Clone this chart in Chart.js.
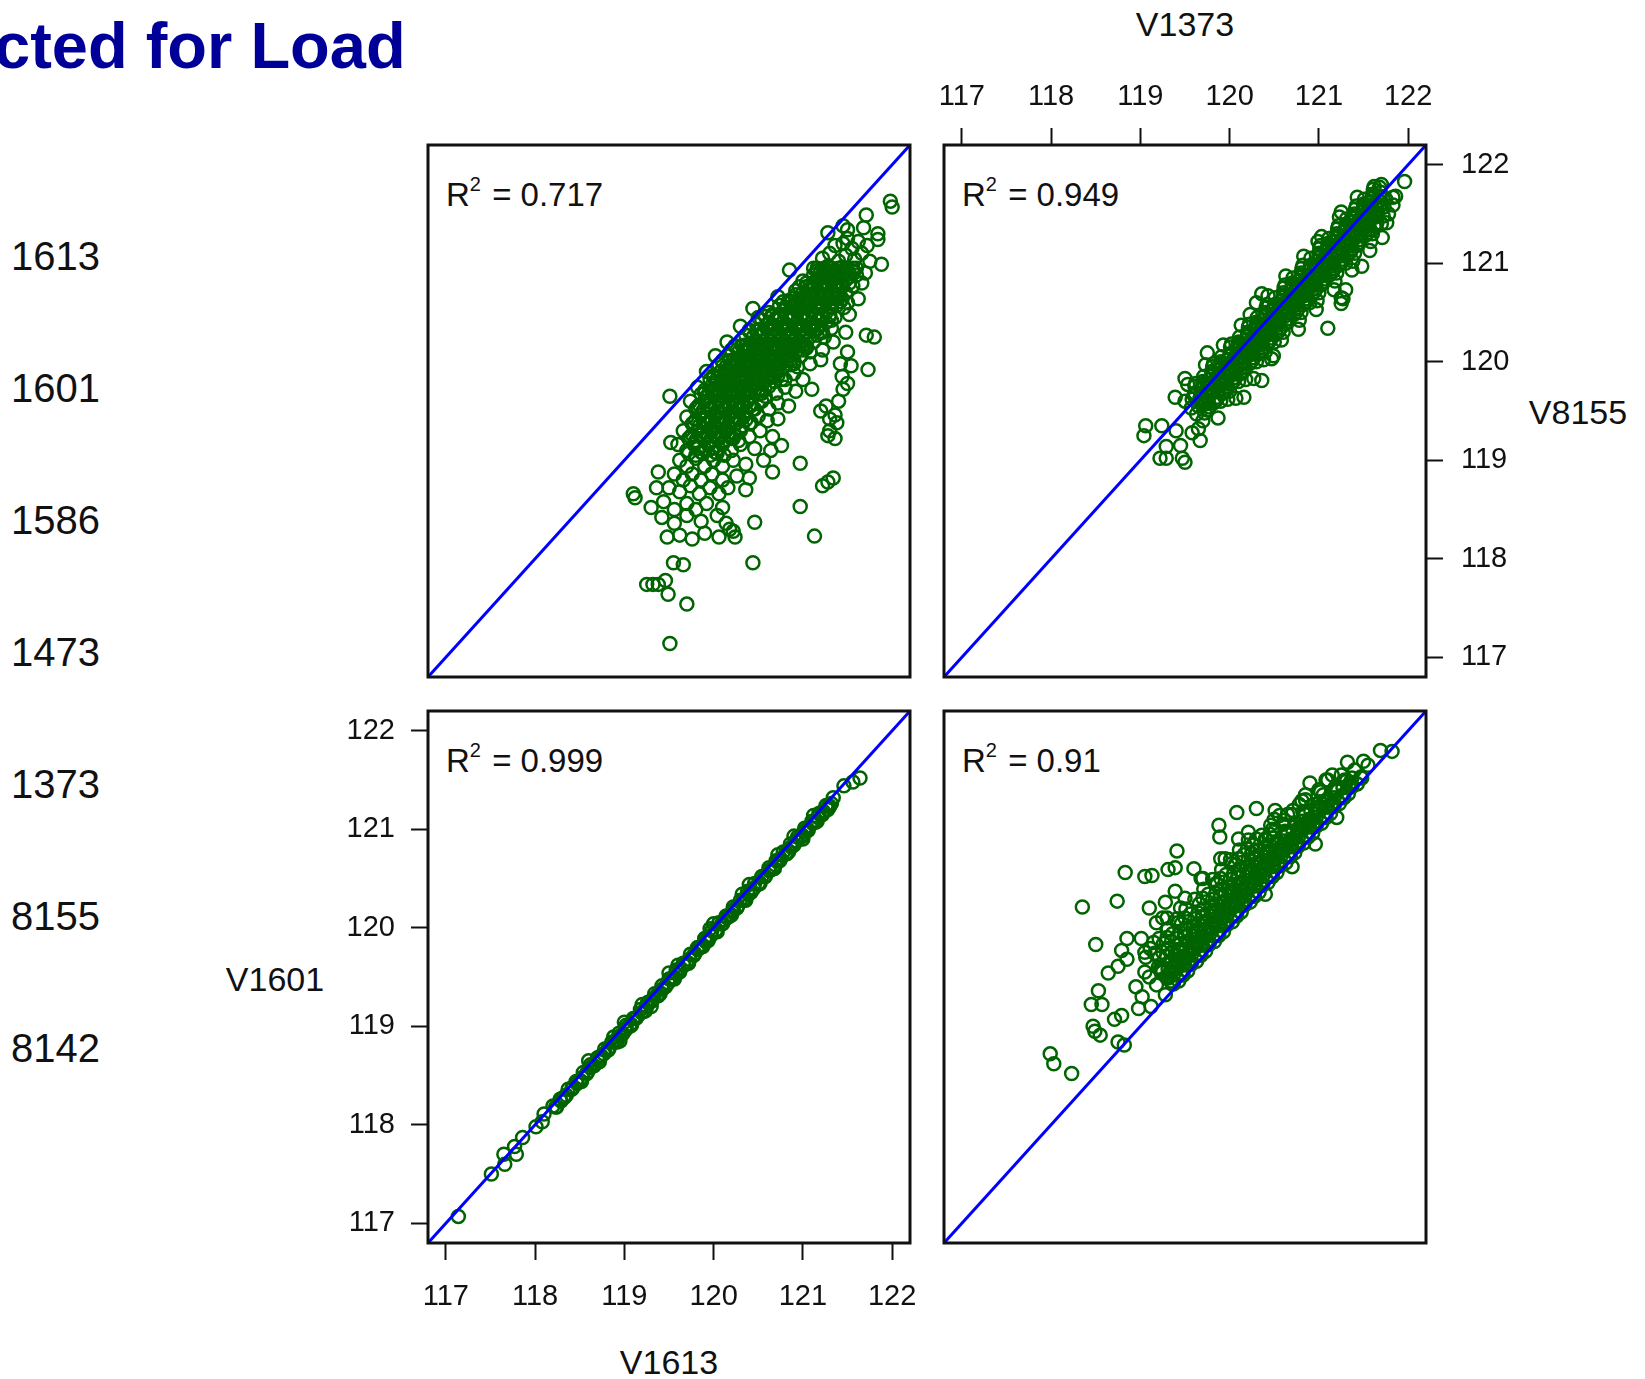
<!DOCTYPE html>
<html lang="en">
<head>
<meta charset="UTF-8">
<title>Observed vs expected for load</title>
<style>
  body {
    margin: 0;
    width: 1645px;
    height: 1379px;
    overflow: hidden;
    position: relative;
    background: #fff;
    color: #111;
    font-family: "Liberation Sans", Arial, sans-serif;
  }
  .abs { position: absolute; white-space: nowrap; }
  #title { left: -6px; top: 13px; font-size: 65px; line-height: 65px; font-weight: bold; color: #000099; }
  .rownum { left: 11px; font-size: 40px; line-height: 40px; }
  .axt { font-size: 34px; line-height: 34px; transform: translate(-50%, -50%); }
  .r2 { font-size: 33px; line-height: 33px; }
  .r2 .sup { font-size: 20px; position: relative; top: -15px; margin-right: 2px; }
  canvas { position: absolute; }
</style>
<script src="https://cdn.jsdelivr.net/npm/chart.js"></script>
</head>
<body>
<div id="title" class="abs">cted for Load</div>
<div id="labels"></div>
<canvas id="tl"></canvas>
<canvas id="tr"></canvas>
<canvas id="bl"></canvas>
<canvas id="br"></canvas>

<script>
// ---- data ----
const axisRange  = [116.8, 122.2];
const tickValues = [117, 118, 119, 120, 121, 122];
const rowNames   = ['1613', '1601', '1586', '1473', '1373', '8155', '8142'];
const r2Labels   = ['0.717', '0.949', '0.999', '0.91'];   // tl, tr, bl, br

// top-left panel, R2 = 0.717
const tlPoints = [
  [121.98,121.63],[122.0,121.57],[121.71,121.49],
  [121.28,121.31],[121.45,121.38],[121.50,121.34],[121.68,121.36],[121.84,121.30],[121.84,121.24],
  [121.36,121.18],[121.45,121.2],[121.55,121.15],[121.62,121.22],[121.72,121.18],[121.5,121.25],
  [121.22,121.05],[121.3,121.1],[121.4,121.02],[121.48,121.08],[121.58,121.04],[121.66,121.1],[121.75,121.02],[121.88,120.99],
  [120.85,120.93],[121.12,120.95],[121.2,120.92],[121.28,120.97],[121.36,120.9],[121.44,120.96],[121.52,120.9],[121.6,120.95],[121.7,120.9],
  [121.0,120.82],[121.08,120.78],[121.16,120.84],[121.24,120.78],[121.32,120.82],[121.4,120.76],[121.48,120.83],[121.56,120.77],[121.66,120.8],
  [120.72,120.66],[120.84,120.62],[120.92,120.68],[121.0,120.62],[121.08,120.67],[121.16,120.6],[121.24,120.66],[121.32,120.6],[121.4,120.65],[121.5,120.6],[121.62,120.64],
  [120.44,120.54],[120.5,120.45],[120.62,120.5],[120.7,120.44],[120.78,120.52],[120.86,120.46],[120.94,120.5],[121.02,120.44],[121.1,120.5],[121.18,120.44],[121.26,120.5],[121.36,120.45],[121.52,120.48],
  [120.3,120.36],[120.4,120.32],[120.48,120.38],[120.56,120.3],[120.64,120.36],[120.72,120.3],[120.8,120.36],[120.88,120.3],[120.96,120.36],[121.04,120.3],[121.12,120.36],[121.22,120.3],[121.32,120.34],[121.48,120.3],
  [121.71,120.27],[121.8,120.25],
  [120.15,120.2],[120.24,120.16],[120.32,120.22],[120.4,120.14],[120.48,120.2],[120.56,120.15],[120.64,120.22],[120.72,120.14],[120.8,120.2],[120.88,120.14],[120.96,120.2],[121.04,120.14],[121.12,120.2],[121.22,120.12],[121.34,120.2],[121.5,120.1],
  [120.02,120.06],[120.1,120.0],[120.18,120.06],[120.26,119.98],[120.34,120.05],[120.42,119.98],[120.5,120.05],[120.58,119.98],[120.66,120.05],[120.74,119.98],[120.82,120.05],[120.9,119.98],[120.98,120.06],[121.08,119.98],[121.2,120.02],[121.42,119.98],[121.54,119.96],
  [121.73,119.92],
  [119.92,119.9],[120.0,119.84],[120.08,119.9],[120.16,119.82],[120.24,119.9],[120.32,119.84],[120.4,119.9],[120.48,119.82],[120.56,119.9],[120.64,119.84],[120.72,119.9],[120.8,119.82],[120.9,119.88],[121.0,119.82],[121.44,119.85],[121.5,119.78],
  [119.82,119.74],[119.9,119.68],[119.98,119.76],[120.06,119.68],[120.14,119.76],[120.22,119.68],[120.3,119.75],[120.38,119.68],[120.46,119.76],[120.54,119.68],[120.62,119.75],[120.7,119.68],[120.8,119.74],[120.92,119.7],[121.1,119.72],[121.45,119.72],[121.4,119.6],
  [119.51,119.65],
  [119.74,119.6],[119.82,119.54],[119.9,119.6],[119.98,119.52],[120.06,119.6],[120.14,119.52],[120.22,119.6],[120.3,119.52],[120.38,119.6],[120.46,119.52],[120.54,119.6],[120.62,119.52],[120.72,119.58],[120.84,119.55],[121.2,119.5],[121.26,119.55],[121.36,119.46],
  [119.7,119.44],[119.78,119.38],[119.86,119.46],[119.94,119.38],[120.02,119.45],[120.1,119.38],[120.18,119.46],[120.26,119.38],[120.34,119.45],[120.42,119.38],[120.5,119.45],[120.6,119.4],[120.72,119.42],[121.3,119.42],[121.38,119.38],
  [119.66,119.3],[119.74,119.24],[119.82,119.3],[119.9,119.22],[119.98,119.3],[120.06,119.22],[120.14,119.3],[120.22,119.22],[120.3,119.3],[120.4,119.24],[120.52,119.3],[120.66,119.24],[121.3,119.3],[121.36,119.22],[121.28,119.25],
  [119.6,119.16],[119.52,119.18],[119.7,119.1],[119.78,119.16],[119.86,119.08],[119.94,119.16],[120.02,119.08],[120.1,119.16],[120.2,119.1],[120.3,119.16],[120.46,119.12],[120.64,119.1],[120.76,119.15],
  [119.62,119.0],[119.7,118.94],[119.8,119.02],[119.9,118.94],[120.0,119.0],[120.1,118.94],[120.22,119.0],[120.36,118.96],[120.56,119.0],[120.66,118.88],[120.97,118.97],
  [119.38,118.88],[119.56,118.86],[119.66,118.8],[119.76,118.86],[119.86,118.8],[119.98,118.86],[120.1,118.8],[120.26,118.84],[120.4,118.82],
  [121.34,118.82],[121.28,118.78],[121.22,118.74],
  [119.36,118.72],[119.5,118.72],[119.62,118.68],[119.74,118.74],[119.84,118.66],[119.96,118.72],[120.06,118.66],[120.16,118.72],[120.36,118.7],
  [119.1,118.66],[119.12,118.62],[119.3,118.52],[119.44,118.58],[119.56,118.5],[119.7,118.56],[119.8,118.5],[119.92,118.56],[120.1,118.52],[120.97,118.53],
  [119.42,118.42],[119.56,118.36],[119.7,118.44],[119.86,118.38],[120.04,118.44],[120.14,118.36],[120.18,118.3],[120.46,118.37],
  [119.48,118.22],[119.62,118.24],[119.76,118.2],[119.9,118.26],[120.06,118.22],[120.22,118.28],[120.24,118.22],[121.13,118.23],
  [119.55,117.96],[119.66,117.94],[120.44,117.96],
  [119.25,117.74],[119.32,117.74],[119.38,117.74],[119.46,117.78],
  [119.49,117.64],[119.7,117.54],[119.51,117.14],
  // dense core
  [121.12,120.88],[121.2,120.86],[121.28,120.88],[121.36,120.86],[121.44,120.88],[121.52,120.86],[121.6,120.88],
  [120.92,120.72],[121.0,120.7],[121.08,120.72],[121.16,120.7],[121.24,120.72],[121.32,120.7],[121.4,120.72],[121.48,120.7],
  [120.74,120.57],[120.82,120.55],[120.9,120.57],[120.98,120.55],[121.06,120.57],[121.14,120.55],[121.22,120.57],[121.3,120.55],[121.38,120.57],[121.46,120.55],
  [120.54,120.42],[120.62,120.4],[120.7,120.42],[120.78,120.4],[120.86,120.42],[120.94,120.4],[121.02,120.42],[121.1,120.4],[121.18,120.42],[121.26,120.4],[121.32,120.42],
  [120.36,120.27],[120.44,120.25],[120.52,120.27],[120.6,120.25],[120.68,120.27],[120.76,120.25],[120.84,120.27],[120.92,120.25],[121.0,120.27],[121.08,120.25],[121.16,120.27],[121.24,120.25],
  [120.2,120.12],[120.28,120.1],[120.36,120.12],[120.44,120.1],[120.52,120.12],[120.6,120.1],[120.68,120.12],[120.76,120.1],[120.84,120.12],[120.92,120.1],[121.0,120.12],[121.08,120.1],
  [120.06,119.97],[120.14,119.95],[120.22,119.97],[120.3,119.95],[120.38,119.97],[120.46,119.95],[120.54,119.97],[120.62,119.95],[120.7,119.97],[120.78,119.95],[120.86,119.97],[120.94,119.95],
  [119.96,119.82],[120.04,119.8],[120.12,119.82],[120.2,119.8],[120.28,119.82],[120.36,119.8],[120.44,119.82],[120.52,119.8],[120.6,119.82],[120.68,119.8],[120.76,119.82],
  [119.86,119.67],[119.94,119.65],[120.02,119.67],[120.1,119.65],[120.18,119.67],[120.26,119.65],[120.34,119.67],[120.42,119.65],[120.5,119.67],[120.58,119.65],
  [119.8,119.52],[119.88,119.5],[119.96,119.52],[120.04,119.5],[120.12,119.52],[120.2,119.5],[120.28,119.52],[120.36,119.5],[120.44,119.52],
  [119.76,119.37],[119.84,119.35],[119.92,119.37],[120.0,119.35],[120.08,119.37],[120.16,119.35],[120.24,119.37],[120.32,119.35],[120.4,119.37],
  [119.72,119.22],[119.8,119.2],[119.88,119.22],[119.96,119.2],[120.04,119.22],[120.12,119.2],[120.2,119.22],[120.28,119.2],
  [119.72,119.07],[119.8,119.05],[119.88,119.07],[119.96,119.05],[120.04,119.07],[120.12,119.05],
  [121.16,120.95],[121.24,120.95],[121.32,120.95],[121.4,120.95],[121.48,120.95],[121.56,120.95],
  [121.04,120.8],[121.12,120.8],[121.2,120.8],[121.28,120.8],[121.36,120.8],[121.44,120.8],[121.52,120.8],
  [120.88,120.64],[120.96,120.64],[121.04,120.64],[121.12,120.64],[121.2,120.64],[121.28,120.64],[121.36,120.64],[121.44,120.64],
  [120.66,120.48],[120.74,120.48],[120.82,120.48],[120.9,120.48],[120.98,120.48],[121.06,120.48],[121.14,120.48],[121.22,120.48],[121.3,120.48],
  [120.52,120.33],[120.6,120.33],[120.68,120.33],[120.76,120.33],[120.84,120.33],[120.92,120.33],[121.0,120.33],[121.08,120.33],[121.16,120.33],
  [120.36,120.17],[120.44,120.17],[120.52,120.17],[120.6,120.17],[120.68,120.17],[120.76,120.17],[120.84,120.17],[120.92,120.17],[121.0,120.17],
  [120.22,120.02],[120.3,120.02],[120.38,120.02],[120.46,120.02],[120.54,120.02],[120.62,120.02],[120.7,120.02],[120.78,120.02],[120.86,120.02],
  [120.12,119.86],[120.2,119.86],[120.28,119.86],[120.36,119.86],[120.44,119.86],[120.52,119.86],[120.6,119.86],[120.68,119.86],
  [120.02,119.71],[120.1,119.71],[120.18,119.71],[120.26,119.71],[120.34,119.71],[120.42,119.71],[120.5,119.71],
  [119.94,119.56],[120.02,119.56],[120.1,119.56],[120.18,119.56],[120.26,119.56],[120.34,119.56],[120.42,119.56],
  [119.9,119.41],[119.98,119.41],[120.06,119.41],[120.14,119.41],[120.22,119.41],[120.3,119.41],
  [119.86,119.26],[119.94,119.26],[120.02,119.26],[120.1,119.26],[120.18,119.26],
  [119.82,119.12],[119.9,119.12],[119.98,119.12],[120.06,119.12],
  [121.16,120.92],[121.24,120.92],[121.32,120.92],[121.4,120.92],[121.48,120.92],[121.56,120.92],
  [120.96,120.76],[121.04,120.76],[121.12,120.76],[121.2,120.76],[121.28,120.76],[121.36,120.76],[121.44,120.76],
  [120.78,120.61],[120.86,120.61],[120.94,120.61],[121.02,120.61],[121.1,120.61],[121.18,120.61],[121.26,120.61],[121.34,120.61],[121.42,120.61],
  [120.58,120.46],[120.66,120.46],[120.74,120.46],[120.82,120.46],[120.9,120.46],[120.98,120.46],[121.06,120.46],[121.14,120.46],[121.22,120.46],[121.3,120.46],
  [120.4,120.31],[120.48,120.31],[120.56,120.31],[120.64,120.31],[120.72,120.31],[120.8,120.31],[120.88,120.31],[120.96,120.31],[121.04,120.31],[121.12,120.31],[121.2,120.31],
  [120.24,120.16],[120.32,120.16],[120.4,120.16],[120.48,120.16],[120.56,120.16],[120.64,120.16],[120.72,120.16],[120.8,120.16],[120.88,120.16],[120.96,120.16],[121.04,120.16],
  [120.1,120.01],[120.18,120.01],[120.26,120.01],[120.34,120.01],[120.42,120.01],[120.5,120.01],[120.58,120.01],[120.66,120.01],[120.74,120.01],[120.82,120.01],[120.9,120.01],
  [120.0,119.86],[120.08,119.86],[120.16,119.86],[120.24,119.86],[120.32,119.86],[120.4,119.86],[120.48,119.86],[120.56,119.86],[120.64,119.86],[120.72,119.86],
  [119.9,119.71],[119.98,119.71],[120.06,119.71],[120.14,119.71],[120.22,119.71],[120.3,119.71],[120.38,119.71],[120.46,119.71],[120.54,119.71],
  [119.84,119.56],[119.92,119.56],[120.0,119.56],[120.08,119.56],[120.16,119.56],[120.24,119.56],[120.32,119.56],[120.4,119.56],
  [119.8,119.41],[119.88,119.41],[119.96,119.41],[120.04,119.41],[120.12,119.41],[120.2,119.41],[120.28,119.41],[120.36,119.41],
  [119.76,119.26],[119.84,119.26],[119.92,119.26],[120.0,119.26],[120.08,119.26],[120.16,119.26],[120.24,119.26]
];

// top-right panel, R2 = 0.949
const trPoints = [
  [119.5,119.6],[119.57,119.53],[119.63,119.47],[119.7,119.4],
  [119.53,119.77],[119.67,119.63],[119.73,119.57],[119.87,119.43],
  [119.7,119.8],[119.77,119.73],[119.9,119.6],
  [119.73,119.97],[119.8,119.9],[119.93,119.77],[120.0,119.7],[120.07,119.63],
  [119.9,120.0],[119.97,119.93],[120.03,119.87],[120.1,119.8],
  [119.93,120.17],[120.07,120.03],[120.13,119.97],[120.27,119.83],
  [120.1,120.2],[120.17,120.13],[120.3,120.0],[120.23,120.07],
  [120.13,120.37],[120.2,120.3],[120.27,120.23],[120.33,120.17],[120.4,120.1],[120.47,120.03],
  [120.3,120.4],[120.37,120.33],[120.43,120.27],[120.5,120.2],
  [120.3,120.6],[120.4,120.5],[120.47,120.43],[120.53,120.37],[120.6,120.3],
  [120.43,120.67],[120.57,120.53],[120.63,120.47],[120.77,120.33],
  [120.6,120.7],[120.67,120.63],[120.73,120.57],[120.8,120.5],
  [120.63,120.87],[120.7,120.8],[120.77,120.73],[120.83,120.67],[120.9,120.6],[120.97,120.53],
  [120.8,120.9],[120.87,120.83],[120.93,120.77],[121.0,120.7],
  [120.83,121.07],[120.97,120.93],[121.03,120.87],[121.17,120.73],[121.25,120.65],
  [121.0,121.1],[121.07,121.03],[121.13,120.97],[121.2,120.9],
  [121.03,121.27],[121.1,121.2],[121.17,121.13],[121.23,121.07],[121.3,121.0],[121.37,120.93],
  [121.2,121.3],[121.27,121.23],[121.33,121.17],[121.4,121.1],
  [121.23,121.47],[121.37,121.33],[121.43,121.27],[121.57,121.13],
  [121.4,121.5],[121.47,121.43],[121.53,121.37],[121.6,121.3],
  [121.43,121.67],[121.5,121.6],[121.57,121.53],[121.63,121.47],[121.7,121.4],
  [121.6,121.7],[121.67,121.63],[121.73,121.57],
  [121.7,121.8],[121.83,121.67],
  [121.96,121.83],[121.68,121.77],[121.86,121.68],[121.83,121.59],[121.78,121.5],[121.76,121.41],[121.71,121.26],
  [121.25,121.52],[120.99,121.22],[120.36,120.69],[120.23,120.48],[119.75,120.09],[119.5,119.83],[119.39,119.64],
  [121.48,120.97],[121.3,120.73],[121.27,120.64],[121.25,120.59],[121.1,120.34],
  [120.36,119.81],[120.49,120.06],[120.16,119.64],[119.67,119.2],[119.65,119.32],
  [119.06,119.35],[119.04,119.25],[119.24,119.35],[119.29,119.14],[119.22,119.02],[119.29,119.02],
  [119.47,119.02],[119.5,118.98],[119.4,119.3],[119.45,119.15],[119.58,119.28],
  // dense band
  [119.58,119.62],[119.65,119.55],[119.72,119.48],
  [119.62,119.78],[119.69,119.72],[119.75,119.65],[119.82,119.58],
  [119.78,119.82],[119.85,119.75],[119.92,119.68],[119.98,119.62],
  [119.82,119.98],[119.89,119.92],[119.95,119.85],[120.02,119.78],
  [119.98,120.02],[120.05,119.95],[120.12,119.88],[120.18,119.82],
  [120.02,120.18],[120.09,120.12],[120.15,120.05],[120.22,119.98],
  [120.18,120.22],[120.25,120.15],[120.32,120.08],[120.38,120.02],
  [120.22,120.38],[120.29,120.32],[120.35,120.25],[120.42,120.18],
  [120.38,120.42],[120.45,120.35],[120.52,120.28],[120.58,120.22],
  [120.42,120.58],[120.49,120.52],[120.55,120.45],[120.62,120.38],
  [120.58,120.62],[120.65,120.55],[120.72,120.48],[120.78,120.42],
  [120.62,120.78],[120.69,120.72],[120.75,120.65],[120.82,120.58],
  [120.78,120.82],[120.85,120.75],[120.92,120.68],[120.98,120.62],
  [120.82,120.98],[120.89,120.92],[120.95,120.85],[121.02,120.78],
  [120.98,121.02],[121.05,120.95],[121.12,120.88],[121.18,120.82],
  [121.02,121.18],[121.09,121.12],[121.15,121.05],[121.22,120.98],
  [121.18,121.22],[121.25,121.15],[121.32,121.08],[121.38,121.02],
  [121.22,121.38],[121.29,121.32],[121.35,121.25],[121.42,121.18],
  [121.38,121.42],[121.45,121.35],[121.52,121.28],[121.58,121.22],
  [121.42,121.58],[121.49,121.52],[121.55,121.45],[121.62,121.38],
  [121.58,121.62],[121.65,121.55],[121.72,121.48],
  [121.62,121.78],[121.69,121.72],[121.75,121.65],
  [119.6,119.66],[119.68,119.58],[119.75,119.51],
  [119.61,119.75],[119.68,119.68],[119.76,119.6],
  [119.7,119.76],[119.78,119.68],[119.85,119.61],
  [119.71,119.85],[119.78,119.78],[119.86,119.7],
  [119.8,119.86],[119.88,119.78],[119.95,119.71],
  [119.81,119.95],[119.88,119.88],[119.96,119.8],
  [119.9,119.96],[119.98,119.88],[120.05,119.81],
  [119.91,120.05],[119.98,119.98],[120.06,119.9],
  [120.0,120.06],[120.08,119.98],[120.15,119.91],
  [120.01,120.15],[120.08,120.08],[120.16,120.0],
  [120.1,120.16],[120.18,120.08],[120.25,120.01],
  [120.11,120.25],[120.18,120.18],[120.26,120.1],
  [120.2,120.26],[120.28,120.18],[120.35,120.11],
  [120.21,120.35],[120.28,120.28],[120.36,120.2],
  [120.3,120.36],[120.38,120.28],[120.45,120.21],
  [120.31,120.45],[120.38,120.38],[120.46,120.3],
  [120.4,120.46],[120.48,120.38],[120.55,120.31],
  [120.41,120.55],[120.48,120.48],[120.56,120.4],
  [120.5,120.56],[120.58,120.48],[120.65,120.41],
  [120.51,120.65],[120.58,120.58],[120.66,120.5],
  [120.6,120.66],[120.68,120.58],[120.75,120.51],
  [120.61,120.75],[120.68,120.68],[120.76,120.6],
  [120.7,120.76],[120.78,120.68],[120.85,120.61],
  [120.71,120.85],[120.78,120.78],[120.86,120.7],
  [120.8,120.86],[120.88,120.78],[120.95,120.71],
  [120.81,120.95],[120.88,120.88],[120.96,120.8],
  [120.9,120.96],[120.98,120.88],[121.05,120.81],
  [120.91,121.05],[120.98,120.98],[121.06,120.9],
  [121.0,121.06],[121.08,120.98],[121.15,120.91],
  [121.01,121.15],[121.08,121.08],[121.16,121.0],
  [121.1,121.16],[121.18,121.08],[121.25,121.01],
  [121.11,121.25],[121.18,121.18],[121.26,121.1],
  [121.2,121.26],[121.28,121.18],[121.35,121.11],
  [121.21,121.35],[121.28,121.28],[121.36,121.2],
  [121.3,121.36],[121.38,121.28],[121.45,121.21],
  [121.31,121.45],[121.38,121.38],[121.46,121.3],
  [121.4,121.46],[121.48,121.38],[121.55,121.31],
  [121.41,121.55],[121.48,121.48],[121.56,121.4],
  [121.5,121.56],[121.58,121.48],[121.65,121.41],
  [121.51,121.65],[121.58,121.58],[121.66,121.5],
  [121.6,121.66],[121.68,121.58],
  [121.61,121.75],[121.68,121.68],
  [119.61,119.68],[119.67,119.64],[119.72,119.59],[119.77,119.54],
  [119.71,119.78],[119.77,119.74],[119.82,119.69],[119.87,119.64],
  [119.81,119.88],[119.87,119.84],[119.92,119.79],[119.97,119.74],
  [119.91,119.98],[119.97,119.94],[120.02,119.89],[120.07,119.84],
  [120.01,120.08],[120.07,120.04],[120.12,119.99],[120.17,119.94],
  [120.11,120.18],[120.17,120.14],[120.22,120.09],[120.27,120.04],
  [120.21,120.28],[120.27,120.24],[120.32,120.19],[120.37,120.14],
  [120.31,120.38],[120.37,120.34],[120.42,120.29],[120.47,120.24],
  [120.41,120.48],[120.47,120.44],[120.52,120.39],[120.57,120.34],
  [120.51,120.58],[120.57,120.54],[120.62,120.49],[120.67,120.44],
  [120.61,120.68],[120.67,120.64],[120.72,120.59],[120.77,120.54],
  [120.71,120.78],[120.77,120.74],[120.82,120.69],[120.87,120.64],
  [120.81,120.88],[120.87,120.84],[120.92,120.79],[120.97,120.74],
  [120.91,120.98],[120.97,120.94],[121.02,120.89],[121.07,120.84],
  [121.01,121.08],[121.07,121.04],[121.12,120.99],[121.17,120.94],
  [121.11,121.18],[121.17,121.14],[121.22,121.09],[121.27,121.04],
  [121.21,121.28],[121.27,121.24],[121.32,121.19],[121.37,121.14],
  [121.31,121.38],[121.37,121.34],[121.42,121.29],[121.47,121.24],
  [121.41,121.48],[121.47,121.44],[121.52,121.39],[121.57,121.34],
  [121.51,121.58],[121.57,121.54],[121.62,121.49],
  [121.61,121.68],[121.67,121.64]
];

// bottom-left panel, R2 = 0.999
const blPoints = [
  [117.14,117.07],[117.51,117.5],[117.66,117.6],[117.65,117.7],[117.79,117.7],[117.77,117.78],[117.86,117.87],
  [118.01,117.98],[118.08,118.03],[118.1,118.11],
  [118.2,118.19],[118.24,118.18],[118.28,118.26],[118.33,118.28],[118.37,118.36],[118.42,118.37],[118.46,118.44],[118.5,118.45],
  [118.54,118.53],[118.58,118.52],[118.62,118.61],[118.66,118.6],[118.7,118.68],[118.74,118.7],[118.78,118.77],[118.82,118.76],
  [118.86,118.84],[118.9,118.85],[118.94,118.93],[118.98,118.92],[119.02,119.01],[119.06,119.0],[119.1,119.08],[119.14,119.09],
  [119.18,119.17],[119.22,119.15],[119.26,119.24],[119.3,119.25],[119.34,119.33],[119.38,119.31],[119.42,119.41],[119.46,119.4],
  [119.5,119.48],[119.54,119.49],[119.58,119.57],[119.62,119.55],[119.66,119.64],[119.7,119.65],[119.74,119.73],[119.78,119.72],
  [119.82,119.8],[119.86,119.81],[119.9,119.89],[119.94,119.87],[119.98,119.97],[120.02,119.96],[120.06,120.05],[120.1,120.04],
  [120.14,120.12],[120.18,120.12],[120.22,120.21],[120.26,120.2],[120.3,120.28],[120.34,120.28],[120.38,120.37],[120.42,120.36],
  [120.46,120.45],[120.5,120.44],[120.54,120.52],[120.58,120.52],[120.62,120.61],[120.66,120.6],[120.7,120.68],[120.74,120.68],
  [120.78,120.77],[120.82,120.75],[120.86,120.85],[120.9,120.84],[120.94,120.92],[120.98,120.92],[121.02,121.01],[121.06,120.99],
  [121.1,121.08],[121.14,121.07],[121.18,121.16],[121.22,121.15],[121.26,121.24],[121.3,121.23],[121.34,121.32],
  [121.46,121.44],[121.56,121.48],[121.64,121.52],
  [118.6,118.65],[119.0,119.04],[119.5,119.54],[120.0,120.04],[120.4,120.44],[120.9,120.93],[121.0,120.9],[119.3,119.2],[118.95,118.85],
  [118.52,118.44],[118.72,118.64],[118.92,118.84],[119.08,119.01],[119.24,119.16],[119.4,119.33],[119.56,119.48],[119.72,119.64],
  [119.88,119.81],[120.04,119.96],[120.2,120.13],[120.36,120.28],[120.52,120.45],[120.68,120.6],[120.84,120.77],[121.0,120.93],
  [121.16,121.08],[121.28,121.2],[118.88,118.89],[119.2,119.22],[119.6,119.62],[119.96,119.99],[120.32,120.34],[120.72,120.74],[121.12,121.14],
  [118.32,118.28],[118.42,118.38],[118.62,118.58],[118.82,118.78],[119.02,118.98],[119.12,119.08],[119.32,119.28],[119.52,119.48],
  [119.62,119.58],[119.82,119.78],[119.92,119.88],[120.12,120.08],[120.22,120.18],[120.42,120.38],[120.62,120.58],[120.72,120.68],
  [120.92,120.88],[121.02,120.98],[121.22,121.18],[121.32,121.26],
  [118.23,118.18],[118.29,118.24],[118.35,118.3],[118.41,118.36],[118.47,118.42],[118.53,118.48],[118.59,118.54],[118.65,118.6],
  [118.71,118.66],[118.77,118.72],[118.83,118.78],[118.89,118.84],[118.95,118.9],[119.01,118.96],[119.07,119.02],[119.13,119.08],
  [119.19,119.14],[119.25,119.2],[119.31,119.26],[119.37,119.32],[119.43,119.38],[119.49,119.44],[119.55,119.5],[119.61,119.56],
  [119.67,119.62],[119.73,119.68],[119.79,119.74],[119.85,119.8],[119.91,119.86],[119.97,119.92],[120.03,119.98],[120.09,120.04],
  [120.15,120.1],[120.21,120.16],[120.27,120.22],[120.33,120.28],[120.39,120.34],[120.45,120.4],[120.51,120.46],[120.57,120.52],
  [120.63,120.58],[120.69,120.64],[120.75,120.7],[120.81,120.76],[120.87,120.82],[120.93,120.88],[120.99,120.94],[121.05,121.0],
  [121.11,121.06],[121.17,121.12],[121.23,121.18],[121.29,121.24]
];

// bottom-right panel, R2 = 0.91
const brPoints = [
  [121.69,121.8],[121.82,121.79],[121.32,121.68],[121.5,121.69],[120.9,121.47],
  [120.08,121.17],[120.3,121.21],[120.51,121.19],[119.88,121.04],[119.89,120.92],[120.21,120.97],[120.96,120.85],
  [119.41,120.78],[119.31,120.59],[119.39,120.61],[119.05,120.52],[119.13,120.53],[118.83,120.56],
  [118.74,120.27],[118.35,120.21],[119.28,120.26],[119.18,120.05],[119.39,120.37],
  [118.5,119.83],[118.85,119.89],[119.01,119.89],[118.79,119.77],[118.85,119.68],
  [118.64,119.54],[118.75,119.61],[118.53,119.36],[118.45,119.22],[118.57,119.22],
  [118.47,119.0],[118.49,118.95],[118.55,118.91],[118.75,118.84],[118.82,118.81],
  [117.99,118.72],[118.03,118.62],[118.23,118.52],
  [118.71,119.07],[118.79,119.11],[118.98,119.18],
  [118.95,119.4],[119.06,119.7],[119.1,119.5],[119.02,119.3],[119.12,119.2],[119.15,119.85],[119.2,119.6],[119.1,120.2],[119.25,120.1],
  [119.3,119.98],[119.35,119.75],[119.45,120.2],[119.42,120.05],[119.6,120.6],[119.68,120.5],[119.85,120.45],
  [119.95,120.7],[120.02,120.65],[120.2,120.8],[120.28,120.7],[120.4,120.9],[120.48,121.0],[120.6,121.05],[120.7,121.15],[120.78,121.25],
  [120.85,121.3],[121.0,121.4],[121.08,121.5],[121.15,121.55],
  [119.28,119.32],[119.18,119.42],[119.05,119.55],
  [119.34,119.46],[119.22,119.58],[119.05,119.75],
  [119.48,119.52],[119.38,119.62],[119.25,119.75],
  [119.54,119.66],[119.42,119.78],[119.3,119.9],
  [119.68,119.72],[119.58,119.82],[119.45,119.95],[119.3,120.1],
  [119.74,119.86],[119.62,119.98],[119.5,120.1],
  [119.88,119.92],[119.78,120.02],[119.65,120.15],[119.5,120.3],
  [119.94,120.06],[119.82,120.18],[119.7,120.3],
  [120.08,120.12],[119.98,120.22],[119.85,120.35],[119.7,120.5],
  [120.14,120.26],[120.02,120.38],[119.9,120.5],
  [120.28,120.32],[120.18,120.42],[120.05,120.55],[119.9,120.7],
  [120.34,120.46],[120.22,120.58],[120.1,120.7],
  [120.48,120.52],[120.38,120.62],[120.25,120.75],[120.1,120.9],
  [120.54,120.66],[120.42,120.78],[120.3,120.9],
  [120.68,120.72],[120.58,120.82],[120.45,120.95],
  [120.74,120.86],[120.62,120.98],[120.5,121.1],
  [120.88,120.92],[120.78,121.02],[120.65,121.15],
  [120.94,121.06],[120.82,121.18],
  [121.08,121.12],[120.98,121.22],[120.85,121.35],
  [121.14,121.26],[121.02,121.38],
  [121.28,121.32],[121.18,121.42],[121.1,121.5],
  [121.34,121.46],[121.25,121.55],
  [121.48,121.52],[121.4,121.6],
  [121.55,121.65],
  // dense core
  [119.37,119.43],[119.31,119.49],[119.25,119.55],
  [119.47,119.53],[119.41,119.59],[119.35,119.65],[119.29,119.71],
  [119.57,119.63],[119.51,119.69],[119.45,119.75],
  [119.67,119.73],[119.61,119.79],[119.55,119.85],[119.49,119.91],
  [119.77,119.83],[119.71,119.89],[119.65,119.95],[119.59,120.01],
  [119.87,119.93],[119.81,119.99],[119.75,120.05],[119.69,120.11],
  [119.97,120.03],[119.91,120.09],[119.85,120.15],[119.79,120.21],
  [120.07,120.13],[120.01,120.19],[119.95,120.25],[119.89,120.31],
  [120.17,120.23],[120.11,120.29],[120.05,120.35],[119.99,120.41],
  [120.27,120.33],[120.21,120.39],[120.15,120.45],[120.09,120.51],
  [120.37,120.43],[120.31,120.49],[120.25,120.55],[120.19,120.61],
  [120.47,120.53],[120.41,120.59],[120.35,120.65],[120.29,120.71],
  [120.57,120.63],[120.51,120.69],[120.45,120.75],[120.39,120.81],
  [120.67,120.73],[120.61,120.79],[120.55,120.85],[120.49,120.91],
  [120.77,120.83],[120.71,120.89],[120.65,120.95],
  [120.87,120.93],[120.81,120.99],[120.75,121.05],
  [120.97,121.03],[120.91,121.09],[120.85,121.15],
  [121.07,121.13],[121.01,121.19],[120.95,121.25],
  [121.17,121.23],[121.11,121.29],[121.05,121.35],
  [121.27,121.33],[121.21,121.39],
  [121.37,121.43],[121.31,121.49],
  [121.47,121.53],[120.4,120.34],[120.7,120.62],[121.2,121.12],
  [119.43,119.46],[119.37,119.52],[119.31,119.58],
  [119.53,119.56],[119.47,119.62],[119.41,119.68],[119.35,119.74],
  [119.63,119.66],[119.57,119.72],[119.51,119.78],[119.45,119.84],
  [119.73,119.76],[119.67,119.82],[119.61,119.88],[119.55,119.94],
  [119.83,119.86],[119.77,119.92],[119.71,119.98],[119.65,120.04],
  [119.93,119.96],[119.87,120.02],[119.81,120.08],[119.75,120.14],
  [120.03,120.06],[119.97,120.12],[119.91,120.18],[119.85,120.24],
  [120.13,120.16],[120.07,120.22],[120.01,120.28],[119.95,120.34],
  [120.23,120.26],[120.17,120.32],[120.11,120.38],[120.05,120.44],
  [120.33,120.36],[120.27,120.42],[120.21,120.48],[120.15,120.54],
  [120.43,120.46],[120.37,120.52],[120.31,120.58],[120.25,120.64],
  [120.53,120.56],[120.47,120.62],[120.41,120.68],[120.35,120.74],
  [120.63,120.66],[120.57,120.72],[120.51,120.78],[120.45,120.84],
  [120.73,120.76],[120.67,120.82],[120.61,120.88],
  [120.83,120.86],[120.77,120.92],[120.71,120.98],
  [120.93,120.96],[120.87,121.02],[120.81,121.08],
  [121.03,121.06],[120.97,121.12],[120.91,121.18],
  [121.13,121.16],[121.07,121.22],[121.01,121.28],
  [121.23,121.26],[121.17,121.32],
  [121.33,121.36],[121.27,121.42],
  [121.43,121.46],[121.37,121.52],
  [119.35,119.44],[119.29,119.5],[119.23,119.56],
  [119.45,119.54],[119.39,119.6],[119.33,119.66],
  [119.55,119.64],[119.49,119.7],[119.43,119.76],
  [119.65,119.74],[119.59,119.8],[119.53,119.86],
  [119.75,119.84],[119.69,119.9],[119.63,119.96],
  [119.85,119.94],[119.79,120.0],[119.73,120.06],
  [119.95,120.04],[119.89,120.1],[119.83,120.16],
  [120.05,120.14],[119.99,120.2],[119.93,120.26],
  [120.15,120.24],[120.09,120.3],[120.03,120.36],
  [120.25,120.34],[120.19,120.4],[120.13,120.46],
  [120.35,120.44],[120.29,120.5],[120.23,120.56],
  [120.45,120.54],[120.39,120.6],[120.33,120.66],
  [120.55,120.64],[120.49,120.7],[120.43,120.76],
  [120.65,120.74],[120.59,120.8],[120.53,120.86],
  [120.75,120.84],[120.69,120.9],[120.63,120.96],
  [120.85,120.94],[120.79,121.0],[120.73,121.06],
  [120.95,121.04],[120.89,121.1],[120.83,121.16],
  [121.05,121.14],[120.99,121.2],
  [121.15,121.24],[121.09,121.3],
  [121.25,121.34],[121.19,121.4],
  [121.35,121.44],[121.29,121.5],
  // wider upper part of the core
  [119.21,119.69],[119.16,119.74],[119.11,119.79],
  [119.31,119.79],[119.26,119.84],[119.21,119.89],
  [119.41,119.89],[119.36,119.94],[119.31,119.99],
  [119.51,119.99],[119.46,120.04],[119.41,120.09],
  [119.61,120.09],[119.56,120.14],[119.51,120.19],
  [119.71,120.19],[119.66,120.24],[119.61,120.29],
  [119.81,120.29],[119.76,120.34],[119.71,120.39],
  [119.91,120.39],[119.86,120.44],[119.81,120.49],
  [120.01,120.49],[119.96,120.54],[119.91,120.59],
  [120.11,120.59],[120.06,120.64],[120.01,120.69],
  [120.21,120.69],[120.16,120.74],[120.11,120.79],
  [120.31,120.79],[120.26,120.84],[120.21,120.89],
  [120.41,120.89],[120.36,120.94],
  [120.51,120.99],[120.46,121.04],
  [120.61,121.09],[120.56,121.14],
  [120.71,121.19],[120.81,121.29]
];

// ---- page labels ----
const labels = document.getElementById('labels');
function addLabel(cls, html, left, top) {
  const d = document.createElement('div');
  d.className = 'abs ' + cls;
  d.innerHTML = html;
  d.style.left = left + 'px';
  d.style.top = top + 'px';
  labels.appendChild(d);
}
rowNames.forEach((n, i) => addLabel('rownum', n, 11, 236 + i * 132));
addLabel('axt', 'V1373', 1185, 24);
addLabel('axt', 'V8155', 1578, 412);
addLabel('axt', 'V1601', 275, 979);
addLabel('axt', 'V1613', 669, 1362);

// ---- panels ----
const PW = 482, PH = 532;
const panelPos = { tl: [428, 145], tr: [944, 145], bl: [428, 711], br: [944, 711] };

[['tl', 0], ['tr', 1], ['bl', 2], ['br', 3]].forEach(([k, i]) => {
  const [x, y] = panelPos[k];
  addLabel('r2', 'R<span class="sup">2</span> = ' + r2Labels[i], x + 18, y + 33);
});

const frame = {
  id: 'frame',
  afterDraw(chart) {
    const { ctx, chartArea: a } = chart;
    ctx.save();
    ctx.strokeStyle = '#111';
    ctx.lineWidth = 3;
    ctx.strokeRect(a.left, a.top, a.right - a.left, a.bottom - a.top);
    ctx.restore();
  }
};

const tickPad = { top: 14, bottom: 20, left: 16, right: 18 };

function axis(pos, which, size) {
  const base = { type: 'linear', min: axisRange[0], max: axisRange[1] };
  if (!pos) return Object.assign(base, { display: false });
  return Object.assign(base, {
    position: pos,
    afterBuildTicks: s => { s.ticks = tickValues.map(v => ({ value: v })); },
    afterFit: s => { if (which === 'x') s.height = size; else s.width = size; },
    ticks: {
      color: '#111',
      font: { family: '"Liberation Sans", Arial, sans-serif', size: 29 },
      padding: tickPad[pos],
      maxRotation: 0,
      autoSkip: false
    },
    grid: { drawOnChartArea: false, drawTicks: true, tickLength: 17, tickWidth: 2, tickColor: '#111' },
    border: { display: false }
  });
}

function makePanel(id, pts, xPos, yPos) {
  const [px, py] = panelPos[id];
  // free sides get a wide margin so tick-label overflow never moves the plot area
  const m = {
    l: yPos === 'left' ? 130 : 60,
    r: yPos === 'right' ? 130 : 60,
    t: xPos === 'top' ? 110 : 60,
    b: xPos === 'bottom' ? 90 : 60
  };
  const cv = document.getElementById(id);
  cv.width = PW + m.l + m.r;
  cv.height = PH + m.t + m.b;
  cv.style.left = (px - m.l) + 'px';
  cv.style.top = (py - m.t) + 'px';

  new Chart(cv.getContext('2d'), {
    type: 'scatter',
    data: {
      datasets: [
        {
          data: [{ x: axisRange[0], y: axisRange[0] }, { x: axisRange[1], y: axisRange[1] }],
          showLine: true, borderColor: '#0000ff', borderWidth: 3, pointRadius: 0
        },
        {
          data: pts.map(p => ({ x: p[0], y: p[1] })),
          pointStyle: 'circle', pointRadius: 6.5, borderWidth: 2.5,
          borderColor: '#006400', backgroundColor: 'rgba(0,0,0,0)'
        }
      ]
    },
    options: {
      responsive: false,
      animation: false,
      devicePixelRatio: 1,
      layout: {
        padding: {
          left: yPos === 'left' ? 0 : m.l,
          right: yPos === 'right' ? 0 : m.r,
          top: xPos === 'top' ? 0 : m.t,
          bottom: xPos === 'bottom' ? 0 : m.b
        }
      },
      plugins: { legend: { display: false }, tooltip: { enabled: false } },
      scales: {
        x: axis(xPos, 'x', xPos === 'top' ? m.t : m.b),
        y: axis(yPos, 'y', yPos === 'left' ? m.l : m.r)
      }
    },
    plugins: [frame]
  });
}

makePanel('tl', tlPoints, null, null);
makePanel('tr', trPoints, 'top', 'right');
makePanel('bl', blPoints, 'bottom', 'left');
makePanel('br', brPoints, null, null);
</script>
</body>
</html>
